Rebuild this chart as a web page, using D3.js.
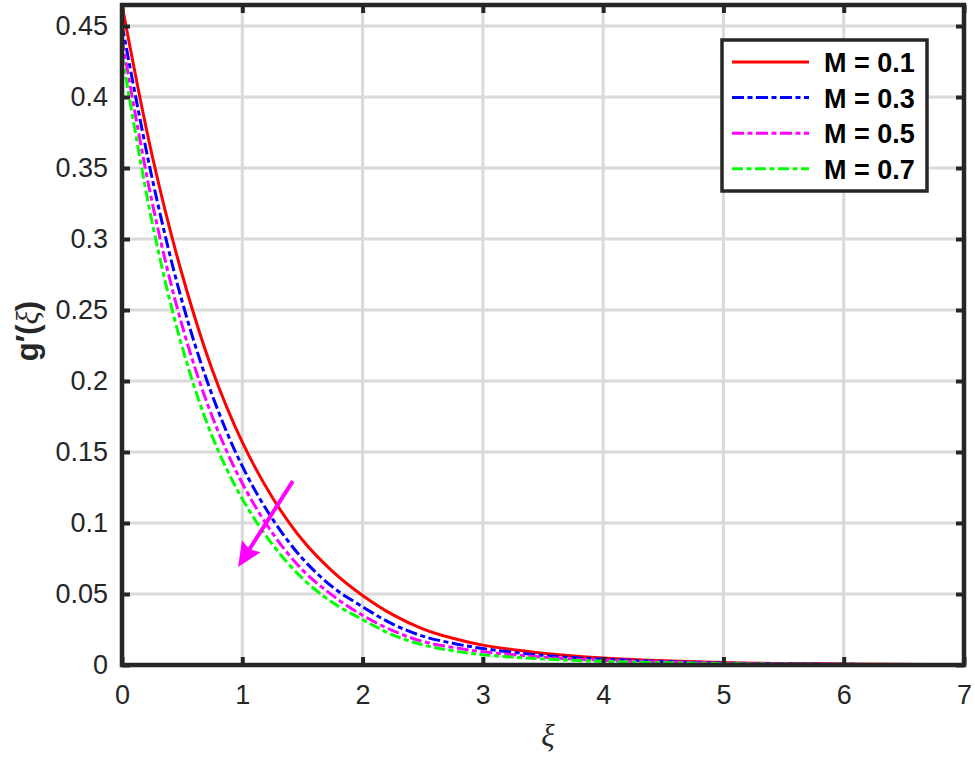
<!DOCTYPE html>
<html>
<head>
<meta charset="utf-8">
<script src="https://cdn.jsdelivr.net/npm/d3@7"></script>
<style>
  html, body { margin: 0; padding: 0; background: #fff; }
  svg { display: block; font-family: "Liberation Sans", Arial, Helvetica, sans-serif; }
</style>
</head>
<body>
<svg id="chart" width="975" height="762"></svg>
<script>
// values
const xi   = [0, 0.25, 0.5, 0.75, 1, 1.25, 1.5, 1.75, 2, 2.25, 2.5, 2.75, 3, 3.5, 4, 5, 6, 7];
const m01  = [0.465, 0.359, 0.275, 0.208, 0.157, 0.118, 0.088, 0.066, 0.049, 0.0355, 0.0255, 0.0188, 0.0140, 0.0083, 0.0050, 0.0018, 0.0007, 0.00025];
const m03  = [0.451, 0.343, 0.256, 0.190, 0.140, 0.103, 0.075, 0.055, 0.041, 0.0288, 0.0203, 0.0153, 0.0116, 0.0068, 0.0041, 0.0014, 0.0005, 0.00017];
const m05  = [0.441, 0.326, 0.239, 0.175, 0.128, 0.093, 0.067, 0.049, 0.035, 0.0242, 0.0166, 0.0124, 0.0093, 0.0055, 0.0033, 0.0012, 0.0004, 0.00014];
const m07  = [0.430, 0.312, 0.224, 0.161, 0.117, 0.085, 0.061, 0.044, 0.032, 0.0212, 0.0142, 0.0100, 0.0072, 0.0043, 0.0026, 0.0010, 0.0003, 0.0001];

const seriesNames  = ["M = 0.1", "M = 0.3", "M = 0.5", "M = 0.7"];
const seriesValues = [m01, m03, m05, m07];
const seriesColors = ["#ff0000", "#0000ff", "#ff00ff", "#00ff00"];
const seriesDash   = [null, "12,3.5,5,3.5", "12,3.5,5,3.5", "11,3.5,5,3.5"];

const xTicks = [0, 1, 2, 3, 4, 5, 6, 7];
const xTickLabels = ["0", "1", "2", "3", "4", "5", "6", "7"];
const yTicks = [0, 0.05, 0.1, 0.15, 0.2, 0.25, 0.3, 0.35, 0.4, 0.45];
const yTickLabels = ["0", "0.05", "0.1", "0.15", "0.2", "0.25", "0.3", "0.35", "0.4", "0.45"];

// arrow annotation, data coords [tail, tip]
const arrowPts = [[1.42, 0.1295], [0.965, 0.069]];

const svg = d3.select("#chart");
const pl = 122, pr = 964, pt = 5, pb = 665;
const axisColor = "#262626";

const x = d3.scaleLinear().domain([0, 7]).range([pl, pr]);
const y = d3.scaleLinear().domain([0, 0.4648]).range([pb, pt]);

svg.append("defs").append("clipPath").attr("id", "clip")
  .append("rect").attr("x", pl).attr("y", pt)
  .attr("width", pr - pl).attr("height", pb - pt);

// grid
const grid = svg.append("g").attr("stroke", "#dadada").attr("stroke-width", 3);
grid.selectAll("line.gx").data(xTicks.slice(1, -1)).enter().append("line")
  .attr("x1", d => x(d)).attr("x2", d => x(d))
  .attr("y1", pt).attr("y2", pb);
grid.selectAll("line.gy").data(yTicks.slice(1)).enter().append("line")
  .attr("x1", pl).attr("x2", pr)
  .attr("y1", d => y(d)).attr("y2", d => y(d));

// curves
const line = d3.line()
  .x(d => x(d[0]))
  .y(d => y(d[1]))
  .curve(d3.curveCatmullRom.alpha(0.5));

const curves = svg.append("g").attr("clip-path", "url(#clip)");
seriesValues.forEach((vals, i) => {
  curves.append("path")
    .datum(xi.map((v, j) => [v, vals[j]]))
    .attr("d", line)
    .attr("fill", "none")
    .attr("stroke", seriesColors[i])
    .attr("stroke-width", 3)
    .attr("stroke-dasharray", seriesDash[i]);
});

// axes (bottom, left, plus mirrored top/right with inward ticks)
const xAxisB = d3.axisBottom(x).tickValues(xTicks).tickFormat((d, i) => xTickLabels[i])
  .tickSizeInner(-8).tickSizeOuter(0).tickPadding(20);
const xAxisT = d3.axisTop(x).tickValues(xTicks).tickFormat("")
  .tickSizeInner(-8).tickSizeOuter(0);
const yAxisL = d3.axisLeft(y).tickValues(yTicks).tickFormat((d, i) => yTickLabels[i])
  .tickSizeInner(-8).tickSizeOuter(0).tickPadding(14);
const yAxisR = d3.axisRight(y).tickValues(yTicks).tickFormat("")
  .tickSizeInner(-8).tickSizeOuter(0);

function styleAxis(g) {
  g.attr("font-family", null).attr("font-size", null);
  g.select(".domain").remove();
  g.selectAll(".tick line").attr("stroke", axisColor).attr("stroke-width", 4);
  g.selectAll(".tick text").attr("fill", axisColor)
    .style("font-size", "27px");
}

svg.append("g").attr("transform", `translate(0,${pb})`).call(xAxisB).call(styleAxis);
svg.append("g").attr("transform", `translate(0,${pt})`).call(xAxisT).call(styleAxis);
svg.append("g").attr("transform", `translate(${pl},0)`).call(yAxisL).call(styleAxis);
svg.append("g").attr("transform", `translate(${pr},0)`).call(yAxisR).call(styleAxis);

// box
svg.append("rect")
  .attr("x", pl).attr("y", pt)
  .attr("width", pr - pl).attr("height", pb - pt)
  .attr("fill", "none").attr("stroke", axisColor).attr("stroke-width", 4.5);

// axis labels
svg.append("text")
  .attr("x", (pl + pr) / 2 + 5).attr("y", 746)
  .attr("text-anchor", "middle")
  .attr("fill", axisColor)
  .style("font-family", "'Liberation Serif', 'DejaVu Serif', serif")
  .style("font-style", "italic")
  .style("font-size", "31px")
  .text("ξ");

const yl = svg.append("text")
  .attr("transform", "translate(38,331) rotate(-90)")
  .attr("text-anchor", "middle")
  .attr("fill", axisColor)
  .style("font-size", "31px")
  .style("font-weight", "bold");
yl.append("tspan").text("g");
yl.append("tspan").text("′");
yl.append("tspan").text("(");
yl.append("tspan").style("font-family", "'Liberation Serif', 'DejaVu Serif', serif")
  .style("font-style", "italic").style("font-weight", "normal").text("ξ");
yl.append("tspan").text(")");

// arrow
const [p0, p1] = arrowPts.map(p => [x(p[0]), y(p[1])]);
const ang = Math.atan2(p1[1] - p0[1], p1[0] - p0[0]);
const headLen = 27, headHalf = 0.42;
const base = [p1[0] - (headLen - 6) * Math.cos(ang), p1[1] - (headLen - 6) * Math.sin(ang)];
svg.append("line")
  .attr("x1", p0[0]).attr("y1", p0[1])
  .attr("x2", base[0]).attr("y2", base[1])
  .attr("stroke", "#ff00ff").attr("stroke-width", 4);
const wing = s => [p1[0] - headLen * Math.cos(ang + s * headHalf), p1[1] - headLen * Math.sin(ang + s * headHalf)];
svg.append("path")
  .attr("d", d3.line()([p1, wing(1), base, wing(-1)]) + "Z")
  .attr("fill", "#ff00ff");

// legend
const lg = svg.append("g");
const lgX = 722, lgY = 40, lgW = 205, lgH = 151, rowH = 35.6;
lg.append("rect")
  .attr("x", lgX).attr("y", lgY).attr("width", lgW).attr("height", lgH)
  .attr("fill", "#fff").attr("stroke", axisColor).attr("stroke-width", 3.5);
seriesNames.forEach((name, i) => {
  const cy = lgY + 22 + i * rowH;
  lg.append("line")
    .attr("x1", lgX + 10).attr("x2", lgX + 87)
    .attr("y1", cy).attr("y2", cy)
    .attr("stroke", seriesColors[i]).attr("stroke-width", 3)
    .attr("stroke-dasharray", seriesDash[i]);
  lg.append("text")
    .attr("x", lgX + 102).attr("y", cy + 10)
    .attr("fill", "#000")
    .style("font-size", "27px").style("font-weight", "bold")
    .text(name);
});
</script>
</body>
</html>
